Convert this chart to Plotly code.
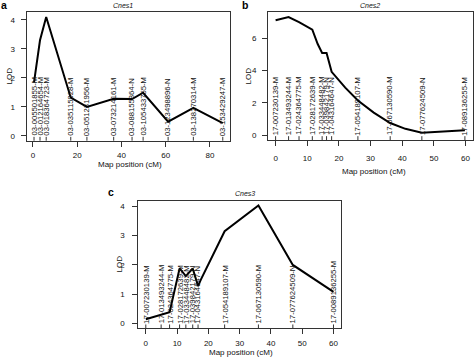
import plotly.graph_objects as go

# ---------------- data ----------------
# Panel a: Cnes1
a_marker_names = ["03-005501855-M", "03-012164654-M", "03-018364723-M", "03-035115928-M",
                  "03-051231956-M", "03-073214161-M", "03-088155864-N", "03-105433755-M",
                  "03-123498896-N", "03-138270314-M", "03-153429247-M"]
a_marker_pos = [0.5, 3.2, 6.0, 17.1, 24.4, 36.5, 44.8, 49.8, 61.1, 72.5, 85.8]
a_curve_pos = [0.5, 3.2, 6.0, 17.1, 24.4, 36.5, 44.8, 49.8, 61.1, 72.5, 85.8]
a_curve_lod = [1.85, 3.3, 4.1, 1.32, 1.0, 1.28, 1.27, 1.49, 0.49, 0.97, 0.44]

# Panel b: Cnes2
b_marker_names = ["17-007230139-M", "17-013493244-M", "17-024364775-M", "17-028172639-M",
                  "17-033448482-M", "17-039842179-N", "17-043164647-N", "17-054189107-M",
                  "17-067130590-M", "17-077624509-N", "17-089136255-M"]
b_marker_pos = [0.0, 4.1, 7.4, 11.6, 14.7, 16.1, 17.7, 26.0, 36.2, 46.2, 59.8]
b_curve_pos = [0.0, 4.1, 7.4, 11.6, 13.3, 14.7, 16.1, 17.7, 22.0, 26.0, 31.0, 36.2, 41.0, 46.2, 59.8]
b_curve_lod = [7.12, 7.32, 7.0, 6.54, 5.65, 5.1, 5.1, 3.93, 2.95, 2.15, 1.4, 0.76, 0.4, 0.16, 0.31]

# Panel c: Cnes3
c_marker_names = ["17-007230139-M", "17-013493244-M", "17-024364775-M", "17-028172639-M",
                  "17-033448482-M", "17-039842179-N", "17-043164647-N", "17-054189107-M",
                  "17-067130590-M", "17-077624509-N", "17-0089136255-M"]
c_marker_pos = [0.0, 4.9, 7.6, 10.8, 12.8, 15.0, 16.7, 25.2, 36.0, 47.0, 60.0]
c_curve_pos = [0.0, 4.9, 7.6, 10.8, 12.8, 15.0, 16.7, 17.6, 25.2, 36.0, 47.0, 60.0]
c_curve_lod = [0.15, 0.32, 0.39, 1.88, 1.62, 1.88, 1.28, 1.5, 3.15, 4.03, 2.0, 1.08]

a_xticks = [0, 20, 40, 60, 80]
a_yticks = [0, 1, 2, 3, 4]
b_xticks = [0, 10, 20, 30, 40, 50, 60]
b_yticks = [0, 2, 4, 6]
c_xticks = [0, 10, 20, 30, 40, 50, 60]
c_yticks = [0, 1, 2, 3, 4]

# ---------------- layout helpers ----------------
W, H = 474, 358
FONT = "Liberation Sans, Arial, Helvetica, sans-serif"
INK = "#111111"
BOX = "#333333"

panels = [
    dict(letter="a", title="Cnes1", xa="x", ya="y",
         names=a_marker_names, mpos=a_marker_pos, cpos=a_curve_pos, clod=a_curve_lod,
         xt=a_xticks, yt=a_yticks,
         box=(26.5, 230.3, 12.3, 140.7), xr=[-2.9, 89.2], yr=[-0.164, 4.264],
         letter_xy=(4, 5), title_xy=(123, 5), xlab_xy=(130, 164), ylab_xy=(8.5, 76),
         xstand=2, ystand=4),
    dict(letter="b", title="Cnes2", xa="x2", ya="y2",
         names=b_marker_names, mpos=b_marker_pos, cpos=b_curve_pos, clod=b_curve_lod,
         xt=b_xticks, yt=b_yticks,
         box=(268.0, 472.5, 12.3, 140.0), xr=[-2.4, 62.2], yr=[-0.293, 7.613],
         letter_xy=(245.5, 5), title_xy=(370, 5), xlab_xy=(374, 171), ylab_xy=(247.5, 76),
         xstand=5, ystand=4),
    dict(letter="c", title="Cnes3", xa="x3", ya="y3",
         names=c_marker_names, mpos=c_marker_pos, cpos=c_curve_pos, clod=c_curve_lod,
         xt=c_xticks, yt=c_yticks,
         box=(138.3, 341.0, 200.7, 328.3), xr=[-2.4, 62.4], yr=[-0.161, 4.191],
         letter_xy=(110.5, 192), title_xy=(245, 193), xlab_xy=(241, 352.5), ylab_xy=(118.5, 264),
         xstand=2, ystand=6),
]

fig = go.Figure()
annotations = []
shapes = []
layout_axes = {}

for i, p in enumerate(panels):
    sfx = "" if i == 0 else str(i + 1)
    l, r, t, b = p["box"]
    layout_axes["xaxis" + sfx] = dict(
        domain=[l / W, r / W], range=p["xr"], anchor=p["ya"],
        tickmode="array", tickvals=p["xt"], ticks="outside", ticklen=5, tickwidth=1,
        tickcolor=BOX, showline=True, mirror=True, linecolor=BOX, linewidth=1,
        showgrid=False, zeroline=False, tickfont=dict(size=8, color=INK, family=FONT),
        ticklabelstandoff=p["xstand"],
    )
    layout_axes["yaxis" + sfx] = dict(
        domain=[1 - b / H, 1 - t / H], range=p["yr"], anchor=p["xa"],
        tickmode="array", tickvals=p["yt"], ticks="outside", ticklen=5, tickwidth=1,
        tickcolor=BOX, showline=True, mirror=True, linecolor=BOX, linewidth=1,
        showgrid=False, zeroline=False, tickfont=dict(size=8, color=INK, family=FONT),
        ticklabelstandoff=p["ystand"],
    )
    fig.add_trace(go.Scatter(
        x=p["cpos"], y=p["clod"], mode="lines", xaxis=p["xa"], yaxis=p["ya"],
        line=dict(color="black", width=2), showlegend=False, hoverinfo="skip",
    ))
    # marker names (vertical) and rug ticks
    for name, pos in zip(p["names"], p["mpos"]):
        annotations.append(dict(
            text=name, x=pos, y=0, xref=p["xa"], yref=p["ya"], textangle=-90,
            xanchor="center", yanchor="bottom", showarrow=False, borderpad=0, yshift=-1,
            font=dict(size=7.7, color=INK, family=FONT),
        ))
        shapes.append(dict(
            type="line", xref=p["xa"], yref=p["ya"] + " domain", x0=pos, x1=pos, y0=0, y1=0.03,
            line=dict(color=BOX, width=1),
        ))
    # panel letter, title, axis titles
    lx, ly = p["letter_xy"]
    annotations.append(dict(text="<b>" + p["letter"] + "</b>", x=lx / W, y=1 - ly / H,
                            xref="paper", yref="paper", xanchor="center", yanchor="middle",
                            showarrow=False, font=dict(size=10.5, color="black", family=FONT)))
    tx, ty = p["title_xy"]
    annotations.append(dict(text="<i>" + p["title"] + "</i>", x=tx / W, y=1 - ty / H,
                            xref="paper", yref="paper", xanchor="center", yanchor="middle",
                            showarrow=False, font=dict(size=7, color=INK, family=FONT)))
    xx, xy = p["xlab_xy"]
    annotations.append(dict(text="Map position (cM)", x=xx / W, y=1 - xy / H,
                            xref="paper", yref="paper", xanchor="center", yanchor="middle",
                            showarrow=False, font=dict(size=8, color=INK, family=FONT)))
    yx, yy = p["ylab_xy"]
    annotations.append(dict(text="LOD", x=yx / W, y=1 - yy / H, textangle=-90,
                            xref="paper", yref="paper", xanchor="center", yanchor="middle",
                            showarrow=False, font=dict(size=8, color=INK, family=FONT)))

fig.update_layout(
    width=W, height=H, margin=dict(l=0, r=0, t=0, b=0),
    paper_bgcolor="white", plot_bgcolor="white",
    font=dict(family=FONT, color=INK),
    annotations=annotations, shapes=shapes, showlegend=False,
    **layout_axes,
)

fig.write_html("out.html", config={"displayModeBar": False},
               post_script="document.body.style.margin='0';")
